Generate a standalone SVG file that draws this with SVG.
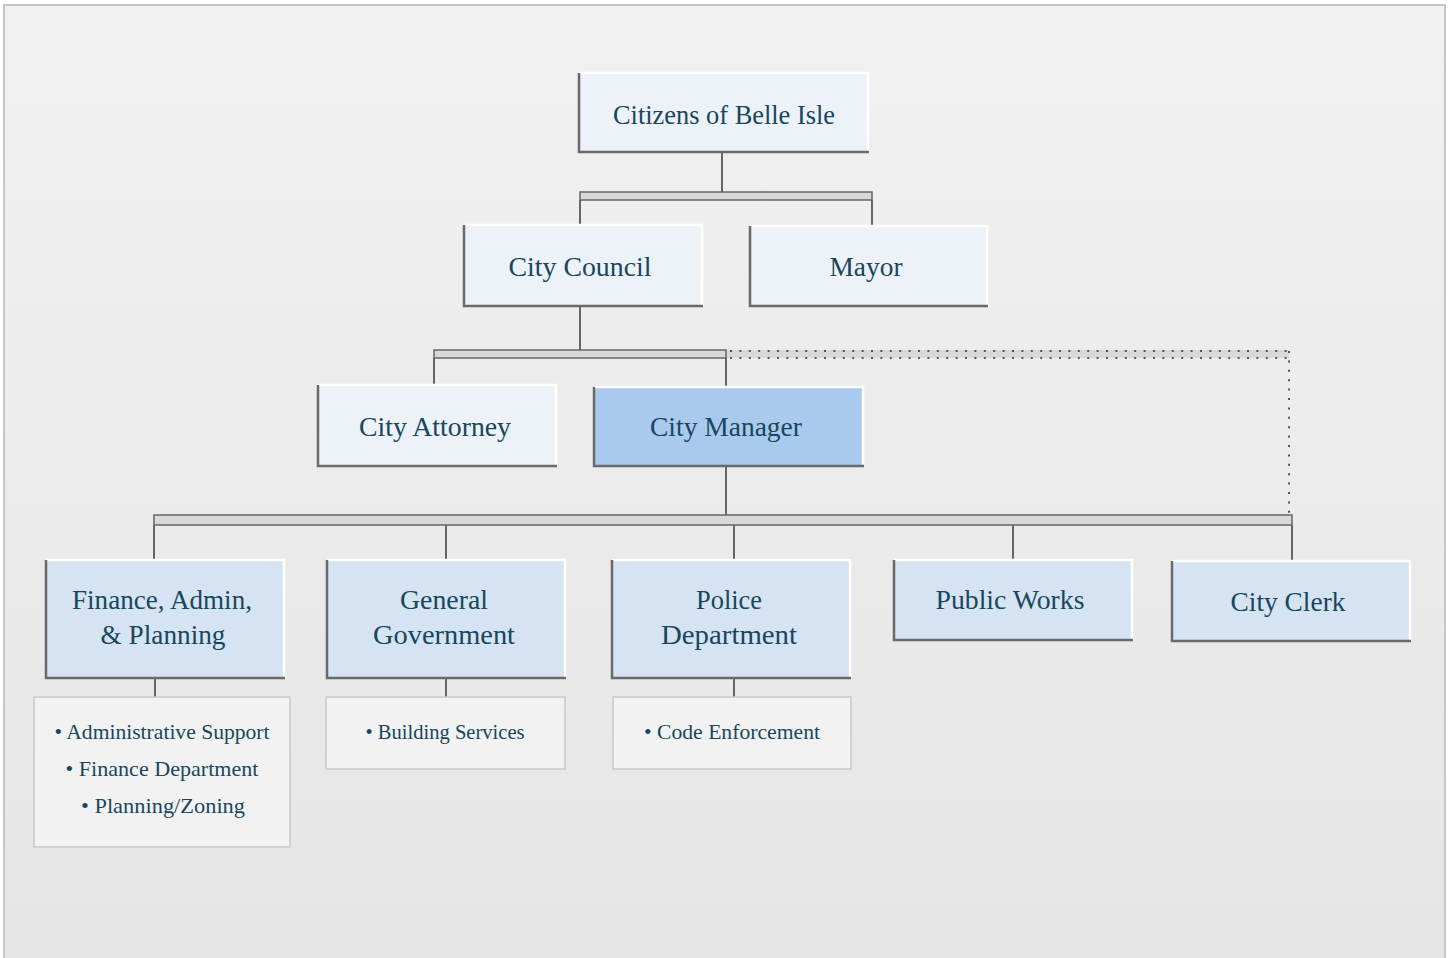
<svg xmlns="http://www.w3.org/2000/svg" width="1452" height="958" viewBox="0 0 1452 958">
<defs>
<linearGradient id="bg" x1="0" y1="0" x2="0" y2="1">
<stop offset="0" stop-color="#f1f1f1"/>
<stop offset="1" stop-color="#e5e5e5"/>
</linearGradient>
</defs>
<style>
.lbl{font-family:"Liberation Serif","DejaVu Serif",serif;font-size:28px;fill:#17475c;text-anchor:middle}
.sub{font-family:"Liberation Serif","DejaVu Serif",serif;font-size:22px;fill:#17475c;text-anchor:middle}
.hl{fill:none;stroke:#ffffff;stroke-width:2.5}
.sh{fill:none;stroke:#6a6a6a;stroke-width:2.5}
.n1{fill:#edf1f8}
.n2{fill:#d6e3f3}
.n3{fill:#a9c9ee}
.sb{fill:#f2f2f2;stroke:#c9c9c9;stroke-width:1.5}
.bar{fill:#d8d8d8;stroke:#666;stroke-width:1.5}
.ln{stroke:#666;stroke-width:2;fill:none}
.dot{stroke:#555;stroke-width:2;fill:none;stroke-dasharray:2 7.4}
</style>
<rect x="4" y="5" width="1441" height="960" fill="url(#bg)" stroke="#c6c6c6" stroke-width="2"/>
<g id="connectors">
<line class="ln" x1="722" y1="153" x2="722" y2="192"/>
<line class="ln" x1="580" y1="200" x2="580" y2="225"/>
<line class="ln" x1="872" y1="200" x2="872" y2="225"/>
<rect class="bar" x="580" y="192" width="292" height="8"/>
<line class="ln" x1="580" y1="307" x2="580" y2="350"/>
<rect x="726" y="350" width="563" height="8" fill="#d8d8d8"/>
<line class="dot" x1="730" y1="351" x2="1289" y2="351"/>
<line class="dot" x1="730" y1="358" x2="1289" y2="358"/>
<line class="dot" x1="1289" y1="351" x2="1289" y2="514"/>
<line class="ln" x1="434" y1="358" x2="434" y2="384"/>
<line class="ln" x1="726" y1="358" x2="726" y2="386"/>
<rect class="bar" x="434" y="350" width="292" height="8"/>
<line class="ln" x1="726" y1="467" x2="726" y2="515"/>
<line class="ln" x1="154" y1="525" x2="154" y2="559"/>
<line class="ln" x1="446" y1="525" x2="446" y2="559"/>
<line class="ln" x1="734" y1="525" x2="734" y2="559"/>
<line class="ln" x1="1013" y1="525" x2="1013" y2="559"/>
<line class="ln" x1="1292" y1="525" x2="1292" y2="560"/>
<rect class="bar" x="154" y="515" width="1138" height="10"/>
<line class="ln" x1="155" y1="679" x2="155" y2="697"/>
<line class="ln" x1="446" y1="679" x2="446" y2="697"/>
<line class="ln" x1="734" y1="679" x2="734" y2="697"/>
</g>
<g id="citizens">
<rect class="n1" x="578" y="72" width="291" height="81"/>
<polyline class="hl" points="579,73 868,73 868,152"/>
<polyline class="sh" points="579,73 579,152 869,152"/>
<text class="lbl" x="724" y="124" textLength="222" lengthAdjust="spacingAndGlyphs">Citizens of Belle Isle</text>
</g>
<g id="city-council">
<rect class="n1" x="463" y="224" width="240" height="83"/>
<polyline class="hl" points="464,225 702,225 702,306"/>
<polyline class="sh" points="464,225 464,306 703,306"/>
<text class="lbl" x="580" y="276" textLength="143" lengthAdjust="spacingAndGlyphs">City Council</text>
</g>
<g id="mayor">
<rect class="n1" x="749" y="225" width="239" height="82"/>
<polyline class="hl" points="750,226 987,226 987,306"/>
<polyline class="sh" points="750,226 750,306 988,306"/>
<text class="lbl" x="866" y="276" textLength="73" lengthAdjust="spacingAndGlyphs">Mayor</text>
</g>
<g id="city-attorney">
<rect class="n1" x="317" y="384" width="240" height="83"/>
<polyline class="hl" points="318,385 556,385 556,466"/>
<polyline class="sh" points="318,385 318,466 557,466"/>
<text class="lbl" x="435" y="436" textLength="152" lengthAdjust="spacingAndGlyphs">City Attorney</text>
</g>
<g id="city-manager">
<rect class="n3" x="593" y="386" width="271" height="81"/>
<polyline class="hl" points="594,387 863,387 863,466" stroke="#d8f0ff"/>
<polyline class="sh" points="594,387 594,466 864,466"/>
<text class="lbl" x="726" y="436" textLength="152" lengthAdjust="spacingAndGlyphs">City Manager</text>
</g>
<g id="finance">
<rect class="n2" x="45" y="559" width="240" height="120"/>
<polyline class="hl" points="46,560 284,560 284,678"/>
<polyline class="sh" points="46,560 46,678 285,678"/>
<text class="lbl" x="162" y="609" textLength="180" lengthAdjust="spacingAndGlyphs">Finance, Admin,</text>
<text class="lbl" x="163" y="644" textLength="125" lengthAdjust="spacingAndGlyphs">&amp; Planning</text>
</g>
<g id="general-government">
<rect class="n2" x="326" y="559" width="240" height="120"/>
<polyline class="hl" points="327,560 565,560 565,678"/>
<polyline class="sh" points="327,560 327,678 566,678"/>
<text class="lbl" x="444" y="609" textLength="88" lengthAdjust="spacingAndGlyphs">General</text>
<text class="lbl" x="444" y="644" textLength="142" lengthAdjust="spacingAndGlyphs">Government</text>
</g>
<g id="police">
<rect class="n2" x="611" y="559" width="240" height="120"/>
<polyline class="hl" points="612,560 850,560 850,678"/>
<polyline class="sh" points="612,560 612,678 851,678"/>
<text class="lbl" x="729" y="609" textLength="66" lengthAdjust="spacingAndGlyphs">Police</text>
<text class="lbl" x="729" y="644" textLength="136" lengthAdjust="spacingAndGlyphs">Department</text>
</g>
<g id="public-works">
<rect class="n2" x="893" y="559" width="240" height="82"/>
<polyline class="hl" points="894,560 1132,560 1132,640"/>
<polyline class="sh" points="894,560 894,640 1133,640"/>
<text class="lbl" x="1010" y="609" textLength="149" lengthAdjust="spacingAndGlyphs">Public Works</text>
</g>
<g id="city-clerk">
<rect class="n2" x="1171" y="560" width="240" height="82"/>
<polyline class="hl" points="1172,561 1410,561 1410,641"/>
<polyline class="sh" points="1172,561 1172,641 1411,641"/>
<text class="lbl" x="1288" y="611" textLength="115" lengthAdjust="spacingAndGlyphs">City Clerk</text>
</g>
<g id="finance-sub">
<rect class="sb" x="34" y="697" width="256" height="150"/>
<text class="sub" x="162" y="739" textLength="215" lengthAdjust="spacingAndGlyphs">• Administrative Support</text>
<text class="sub" x="162" y="776" textLength="193" lengthAdjust="spacingAndGlyphs">• Finance Department</text>
<text class="sub" x="163" y="813" textLength="164" lengthAdjust="spacingAndGlyphs">• Planning/Zoning</text>
</g>
<g id="general-sub">
<rect class="sb" x="326" y="697" width="239" height="72"/>
<text class="sub" x="445" y="739" textLength="159" lengthAdjust="spacingAndGlyphs">• Building Services</text>
</g>
<g id="police-sub">
<rect class="sb" x="613" y="697" width="238" height="72"/>
<text class="sub" x="732" y="739" textLength="176" lengthAdjust="spacingAndGlyphs">• Code Enforcement</text>
</g>
</svg>
